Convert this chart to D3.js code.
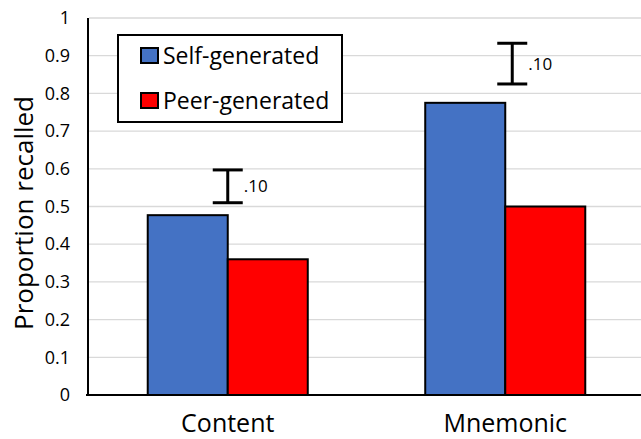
<!DOCTYPE html>
<html><head><meta charset="utf-8">
<script src="https://cdn.jsdelivr.net/npm/d3@7/dist/d3.min.js"></script>
<style>body{margin:0;background:#fff}svg{display:block}text{font-family:"Open Sans",sans-serif;fill:#000}</style>
</head><body><div id="c"></div>
<script>
const categories = ["Content", "Mnemonic"];
const series = ["Self-generated", "Peer-generated"];
const selfValues = [0.477, 0.775];
const peerValues = [0.36, 0.50];
const seriesColors = ["#4472c4", "#ff0000"];
const yTicks = [0, 0.1, 0.2, 0.3, 0.4, 0.5, 0.6, 0.7, 0.8, 0.9, 1];
const annotTop = [0.597, 0.933];
const annotBottom = [0.51, 0.825];
const annotLabels = [".10", ".10"];

const W = 641, H = 439;
const svg = d3.select("#c").append("svg").attr("width", W).attr("height", H);
const y = d3.scaleLinear().domain([0, 1]).range([395, 18]);
const x = d3.scaleBand().domain(categories).range([89, 644]);
const xs = d3.scaleBand().domain(series).range([0, x.bandwidth()]).paddingOuter(0.734);

// gridlines
svg.append("g").selectAll("line").data(yTicks.filter(d => d > 0)).join("line")
  .attr("x1", 89).attr("x2", W).attr("y1", d => y(d)).attr("y2", d => y(d))
  .attr("stroke", "#d9d9d9").attr("stroke-width", 1.3);

// y tick labels
const yAxis = d3.axisLeft(y).tickValues(yTicks).tickSize(0).tickPadding(18)
  .tickFormat(d => d === 0 ? "0" : d === 1 ? "1" : d3.format(".1f")(d));
const ya = svg.append("g").attr("transform", "translate(88,0)").call(yAxis);
ya.select(".domain").remove();
ya.selectAll("text").attr("font-size", 18).attr("font-family", "Open Sans");

const data = categories.map((c, i) => ({c, vals: [selfValues[i], peerValues[i]]}));
const g = svg.append("g").selectAll("g").data(data).join("g")
  .attr("transform", d => `translate(${x(d.c)},0)`);
g.selectAll("rect").data(d => d.vals.map((v, j) => ({s: series[j], v, j}))).join("rect")
  .attr("x", d => xs(d.s)).attr("width", xs.bandwidth())
  .attr("y", d => y(d.v)).attr("height", d => y(0) - y(d.v))
  .attr("fill", d => seriesColors[d.j]).attr("stroke", "#000").attr("stroke-width", 2);

// axes lines
svg.append("line").attr("x1", 88).attr("x2", 88).attr("y1", y(1)).attr("y2", y(0) + 1)
  .attr("stroke", "#000").attr("stroke-width", 2);
svg.append("line").attr("x1", 86).attr("x2", W).attr("y1", y(0)).attr("y2", y(0))
  .attr("stroke", "#000").attr("stroke-width", 2);

// x labels
svg.append("g").selectAll("text").data(categories).join("text")
  .attr("x", d => x(d) + x.bandwidth() / 2).attr("y", 432)
  .attr("text-anchor", "middle").attr("font-size", 25).text(d => d);

// y title
svg.append("text").attr("transform", "translate(33,213) rotate(-90)")
  .attr("text-anchor", "middle").attr("font-size", 26).text("Proportion recalled");

// annotations
const annotOffset = [0, 7];
categories.forEach((c, i) => {
  const cx = x(c) + x.bandwidth() / 2 + annotOffset[i];
  const a = svg.append("g").attr("stroke", "#000").attr("stroke-width", 3);
  a.append("line").attr("x1", cx).attr("x2", cx).attr("y1", y(annotTop[i])).attr("y2", y(annotBottom[i]));
  a.append("line").attr("x1", cx - 15).attr("x2", cx + 15).attr("y1", y(annotTop[i])).attr("y2", y(annotTop[i]));
  a.append("line").attr("x1", cx - 15).attr("x2", cx + 15).attr("y1", y(annotBottom[i])).attr("y2", y(annotBottom[i]));
  svg.append("text").attr("x", cx + 16).attr("y", (y(annotTop[i]) + y(annotBottom[i])) / 2 + 6)
    .attr("font-size", 17).text(annotLabels[i]);
});

// legend
const lg = svg.append("g");
lg.append("rect").attr("x", 118).attr("y", 35).attr("width", 224).attr("height", 87)
  .attr("fill", "#fff").attr("stroke", "#000").attr("stroke-width", 2);
series.forEach((s, i) => {
  const yy = 48 + i * 45;
  lg.append("rect").attr("x", 141).attr("y", yy).attr("width", 17).attr("height", 15)
    .attr("fill", seriesColors[i]).attr("stroke", "#000").attr("stroke-width", 2);
  lg.append("text").attr("x", 163).attr("y", yy + 16).attr("font-size", 23).text(s);
});
</script></body></html>
